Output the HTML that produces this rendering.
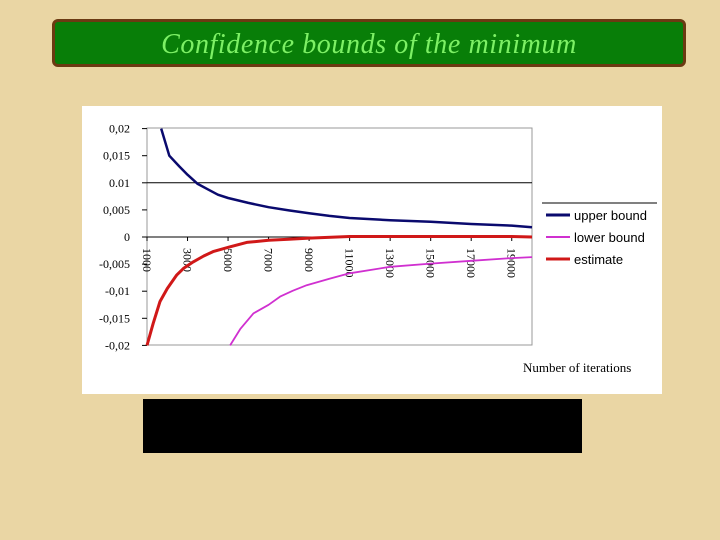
<!DOCTYPE html>
<html><head><meta charset="utf-8"><style>
body{margin:0;width:720px;height:540px;background:#ead6a4;position:relative;overflow:hidden;font-family:"Liberation Serif",serif}
#title{position:absolute;left:52px;top:19px;width:628px;height:42px;background:#087e08;border:3px solid #6b3a12;border-radius:6px;color:#7df065;font-style:italic;font-size:28px;letter-spacing:0.6px;text-align:center;line-height:46px}
#chart{position:absolute;left:82px;top:106px;width:580px;height:288px;background:#fff}
#blk{position:absolute;left:143px;top:399px;width:439px;height:54px;background:#000}
</style></head><body>
<div id="title">Confidence bounds of the minimum</div>
<div id="chart"></div>
<svg id="svg" width="720" height="540" style="position:absolute;left:0;top:0"></svg>
<div id="blk"></div>
<script>
const yTicks=[0.02,0.015,0.01,0.005,0,-0.005,-0.01,-0.015,-0.02];
const yTickLabels=["0,02","0,015","0.01","0,005","0","-0,005","-0,01","-0,015","-0,02"];
const xTicks=[1000,3000,5000,7000,9000,11000,13000,15000,17000,19000];
const upperX=[1700,2100,2600,3000,3500,4000,4500,5000,6000,7000,8000,9000,10000,11000,13000,15000,17000,19000,20000];
const upperY=[0.02,0.015,0.013,0.0115,0.0098,0.0088,0.0078,0.0072,0.0063,0.0055,0.0049,0.0044,0.0039,0.0035,0.0031,0.0028,0.0024,0.0021,0.0018];
const lowerX=[5100,5600,6250,7000,7570,8200,8880,10000,11000,13000,15000,17000,19000,20000];
const lowerY=[-0.02,-0.017,-0.0141,-0.0125,-0.011,-0.0099,-0.0089,-0.0077,-0.0067,-0.0055,-0.0049,-0.0044,-0.0039,-0.0037];
const estX=[1000,1300,1640,2000,2470,2800,3280,3800,4260,5100,5920,7000,8000,9000,11000,15000,19000,20000];
const estY=[-0.02,-0.016,-0.0119,-0.0095,-0.007,-0.0058,-0.0046,-0.0035,-0.0027,-0.0018,-0.001,-0.0006,-0.0004,-0.0002,0.0001,0.0001,0.0001,0.0];
const svg=document.getElementById('svg');const NS='http://www.w3.org/2000/svg';
const X=v=>147+(v-1000)/19000*385;const Y=v=>237-v/0.005*27.1;
function mk(t,a,p){const e=document.createElementNS(NS,t);for(const k in a)e.setAttribute(k,a[k]);(p||svg).appendChild(e);return e;}
const frame=mk('rect',{x:147,y:128,width:385,height:217,fill:'none',stroke:'#999','stroke-width':1});


yTicks.forEach((t,i)=>{
  const l=mk('line',{x1:142,x2:147,y1:Y(t),y2:Y(t),stroke:'#000'});
  
  
  const tx=mk('text',{x:130,y:Y(t)+4,'text-anchor':'end','font-size':12,'font-family':'Liberation Serif, serif',fill:'#000'});
  tx.textContent=yTickLabels[i];
  
  
});
const g=mk('line',{x1:147,x2:532,y1:Y(0.01),y2:Y(0.01),stroke:'#000'});


const ax=mk('line',{x1:147,x2:532,y1:Y(0),y2:Y(0),stroke:'#000'});


xTicks.forEach(t=>{
  const l=mk('line',{x1:X(t),x2:X(t),y1:Y(0),y2:Y(0)+4,stroke:'#000'});
  
  
  const tx=mk('text',{x:0,y:0,'font-size':12,'font-family':'Liberation Serif, serif',fill:'#000',transform:`translate(${X(t)-4},248) rotate(90)`});
  tx.textContent=t;
  
  
});
function line(xs,ys,c,w,name){
  const d=xs.map((x,i)=>(i?'L':'M')+X(x).toFixed(1)+','+Y(ys[i]).toFixed(1)).join('');
  const p=mk('path',{d:d,fill:'none',stroke:c,'stroke-width':w,'stroke-linejoin':'round'});
  
  
}
line(upperX,upperY,'#0a0a6e',2.5,'upper-bound-line');
line(lowerX,lowerY,'#d030d0',1.8,'lower-bound-line');
line(estX,estY,'#d01818',3,'estimate-line');
const ll=mk('line',{x1:542,x2:657,y1:203,y2:203,stroke:'#000'});


const legNames=['upper bound','lower bound','estimate'];const legCols=['#0a0a6e','#d030d0','#d01818'];
legNames.forEach((n,i)=>{
  const y=215+i*22;
  const l=mk('line',{x1:546,x2:570,y1:y,y2:y,stroke:legCols[i],'stroke-width':i==1?2:3});
  
  
  const t=mk('text',{x:574,y:y+5,'font-size':13,'font-family':'Liberation Sans, sans-serif',fill:'#000'});
  t.textContent=n;
  
  
});
const xt=mk('text',{x:523,y:372,'font-size':13,'font-family':'Liberation Serif, serif',fill:'#000'});
xt.textContent='Number of iterations';


</script>
</body></html>
